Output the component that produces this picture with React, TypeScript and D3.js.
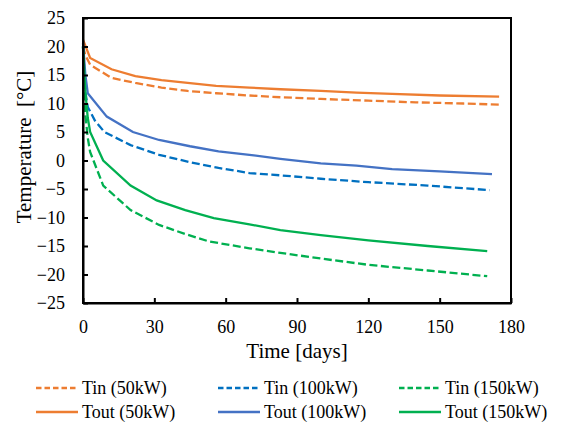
import React, { useRef, useEffect } from "react";
import * as d3 from "d3";

// values
const tout50Days = [0, 3, 12, 22, 33, 44, 56, 70, 83, 100, 115, 130, 150, 175];
const tout50 = [21.2, 18, 16, 14.8, 14.1, 13.6, 13.1, 12.8, 12.5, 12.2, 11.9, 11.7, 11.4, 11.2];

const tin50Days = [0, 1, 3, 12, 22, 33, 44, 56, 70, 83, 100, 120, 140, 160, 175];
const tin50 = [20, 18.5, 16.8, 14.5, 13.6, 12.8, 12.2, 11.8, 11.4, 11.1, 10.8, 10.5, 10.2, 10.0, 9.8];

const tout100Days = [0, 1, 2, 10, 21, 32, 45, 57, 70, 83, 100, 115, 130, 150, 172];
const tout100 = [20.6, 15, 11.8, 7.7, 5.0, 3.6, 2.5, 1.6, 1.0, 0.3, -0.5, -0.9, -1.5, -1.9, -2.4];

const tin100Days = [0, 1, 2, 5, 9, 20, 32, 45, 57, 70, 83, 100, 120, 145, 171];
const tin100 = [20, 12, 9.4, 7, 5.0, 2.7, 1.0, -0.3, -1.3, -2.2, -2.6, -3.2, -3.8, -4.4, -5.2];

const tout150Days = [0, 1, 2, 3, 8.5, 20, 31, 43, 55, 70, 83, 100, 120, 145, 170];
const tout150 = [20, 12, 7.5, 5.0, 0, -4.4, -7.0, -8.7, -10.1, -11.2, -12.2, -13.1, -14.0, -15.0, -15.9];

const tin150Days = [0, 1, 2, 3, 8.5, 20, 32, 43, 53, 70, 83, 100, 120, 145, 170];
const tin150 = [20, 8, 4, 1.5, -4.4, -8.7, -11.3, -12.9, -14.2, -15.4, -16.2, -17.2, -18.3, -19.3, -20.3];

const xTicks = [0, 30, 60, 90, 120, 150, 180];
const yTicks = [-25, -20, -15, -10, -5, 0, 5, 10, 15, 20, 25];

const series = [
  { name: "Tin (50kW)", days: tin50Days, vals: tin50, color: "#ED7D31", dash: true },
  { name: "Tin (100kW)", days: tin100Days, vals: tin100, color: "#0070C0", dash: true },
  { name: "Tin (150kW)", days: tin150Days, vals: tin150, color: "#00B050", dash: true },
  { name: "Tout (50kW)", days: tout50Days, vals: tout50, color: "#ED7D31", dash: false },
  { name: "Tout (100kW)", days: tout100Days, vals: tout100, color: "#4472C4", dash: false },
  { name: "Tout (150kW)", days: tout150Days, vals: tout150, color: "#00B050", dash: false },
];

const FONT = "Liberation Serif, Times New Roman, serif";

const App = () => {
  const ref = useRef<SVGSVGElement>(null);

  useEffect(() => {
    const svg = d3.select(ref.current);
    svg.selectAll("*").remove();

    const width = 563;
    const height = 423;
    const margin = { top: 18, right: 52, bottom: 120, left: 83 };

    const x = d3.scaleLinear().domain([0, 180]).range([margin.left, width - margin.right]);
    const y = d3.scaleLinear().domain([-25, 25]).range([height - margin.bottom, margin.top]);

    svg.append("rect").attr("width", width).attr("height", height).attr("fill", "#fff");

    const line = d3
      .line<[number, number]>()
      .x((d) => x(d[0]))
      .y((d) => y(d[1]));

    series.forEach((s) => {
      svg
        .append("path")
        .attr("d", line(s.days.map((d, i) => [d, s.vals[i]] as [number, number])))
        .attr("fill", "none")
        .attr("stroke", s.color)
        .attr("stroke-width", 2.3)
        .attr("stroke-dasharray", s.dash ? "8 3.5" : null);
    });

    // frame
    svg
      .append("rect")
      .attr("x", x(0))
      .attr("y", y(25))
      .attr("width", x(180) - x(0))
      .attr("height", y(-25) - y(25))
      .attr("fill", "none")
      .attr("stroke", "#000")
      .attr("stroke-width", 2);

    const xAxis = d3
      .axisBottom(x)
      .tickValues(xTicks)
      .tickSizeInner(-5)
      .tickSizeOuter(0)
      .tickPadding(17);
    const gx = svg
      .append("g")
      .attr("transform", `translate(0,${y(-25)})`)
      .call(xAxis)
      .attr("font-family", FONT)
      .attr("font-size", 18);
    gx.select(".domain").attr("stroke-width", 2);
    gx.selectAll(".tick line").attr("stroke-width", 2);
    gx.selectAll(".tick text").attr("fill", "#000");

    const yAxis = d3
      .axisLeft(y)
      .tickValues(yTicks)
      .tickSizeInner(-5)
      .tickSizeOuter(0)
      .tickPadding(18);
    const gy = svg
      .append("g")
      .attr("transform", `translate(${x(0)},0)`)
      .call(yAxis)
      .attr("font-family", FONT)
      .attr("font-size", 18);
    gy.select(".domain").attr("stroke-width", 2);
    gy.selectAll(".tick line").attr("stroke-width", 2);
    gy.selectAll(".tick text").attr("fill", "#000");

    svg
      .append("text")
      .attr("text-anchor", "middle")
      .attr("x", (x(0) + x(180)) / 2)
      .attr("y", 358)
      .style("font-family", FONT)
      .style("font-size", "21px")
      .text("Time [days]");

    svg
      .append("text")
      .attr("text-anchor", "middle")
      .attr("transform", "rotate(-90)")
      .attr("x", -147)
      .attr("y", 31)
      .style("font-family", FONT)
      .style("font-size", "21px")
      .style("white-space", "pre")
      .text("Temperature  [°C]");

    // legend
    const colX = [36, 218, 399];
    const rowY = [388, 412];
    series.forEach((s, i) => {
      const cx = colX[i % 3];
      const cy = rowY[Math.floor(i / 3)];
      svg
        .append("line")
        .attr("x1", cx)
        .attr("x2", cx + 42)
        .attr("y1", cy)
        .attr("y2", cy)
        .attr("stroke", s.color)
        .attr("stroke-width", 2.3)
        .attr("stroke-dasharray", s.dash ? "5.5 3" : null);
      svg
        .append("text")
        .attr("x", cx + 46)
        .attr("y", cy + 5.5)
        .style("font-family", FONT)
        .style("font-size", "18px")
        .text(s.name);
    });
  }, []);

  return (
    <svg
      ref={ref}
      width={563}
      height={423}
      style={{ position: "absolute", left: 0, top: 0 }}
    />
  );
};

export default App;
